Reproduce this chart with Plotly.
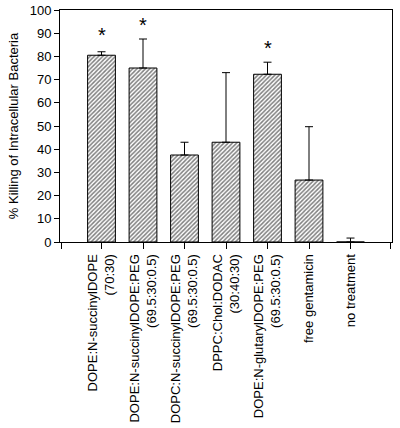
import plotly.graph_objects as go

# Dados
categorias = ["DOPE:N-succinylDOPE<br>(70:30)",
              "DOPE:N-succinylDOPE:PEG<br>(69.5:30:0.5)",
              "DOPC:N-succinylDOPE:PEG<br>(69.5:30:0.5)",
              "DPPC:Chol:DODAC<br>(30:40:30)",
              "DOPE:N-glutarylDOPE:PEG<br>(69.5:30:0.5)",
              "free gentamicin",
              "no treatment"]
posicoes = [1, 2, 3, 4, 5, 6, 7]
valores = [80.5, 75.0, 37.5, 43.0, 72.3, 26.7, 0.0]
erros = [1.5, 12.5, 5.5, 30.0, 5.2, 23.0, 1.7]
estrelas_x = [1, 2, 5]
estrelas_y = [90.5, 95.0, 85.0]
yticks = [0, 10, 20, 30, 40, 50, 60, 70, 80, 90, 100]

fig = go.Figure()

fig.add_trace(go.Bar(
    x=posicoes, y=valores, width=0.67,
    marker=dict(color="white", line=dict(color="black", width=1),
                pattern=dict(shape="/", size=3, solidity=0.5, fgcolor="black", bgcolor="white")),
    error_y=dict(type="data", array=erros, arrayminus=[0] * len(erros),
                 symmetric=False, color="black", thickness=1, width=4),
    showlegend=False,
))

# asteriscos de significância
for xs, ys in zip(estrelas_x, estrelas_y):
    fig.add_annotation(x=xs, y=ys, text="*", showarrow=False, yshift=-3,
                       font=dict(size=20, color="black"))

# ticks extras nas pontas do eixo x (sem rótulo); um pouco para dentro
# senão o plotly some com eles
xtickvals = [0.04] + posicoes + [7.96]
xticktext = [""] + categorias + [""]

fig.update_layout(
    width=400, height=428,
    margin=dict(l=60, r=8, t=10, b=186),
    plot_bgcolor="white", paper_bgcolor="white",
    font=dict(family="Liberation Sans, Arial", color="black"),
)
fig.update_xaxes(range=[0, 8], tickvals=xtickvals, ticktext=xticktext, tickangle=-90,
                 ticks="outside", ticklen=6, tickcolor="black", showline=True,
                 linecolor="black", linewidth=1, mirror=True, showgrid=False,
                 zeroline=False, tickfont=dict(size=13), automargin=False)
fig.update_yaxes(range=[0, 100], tickvals=yticks, ticks="outside", ticklen=5,
                 tickcolor="black", showline=True, linecolor="black", linewidth=1,
                 mirror=True, showgrid=False, zeroline=False, tickfont=dict(size=13),
                 automargin=False,
                 title=dict(text="% Killing of Intracellular Bacteria", font=dict(size=13), standoff=8))

# tira a margem padrão do body para a figura ocupar a janela toda
fig.write_html("out.html", config={"displayModeBar": False},
               post_script="document.body.style.margin='0';")
